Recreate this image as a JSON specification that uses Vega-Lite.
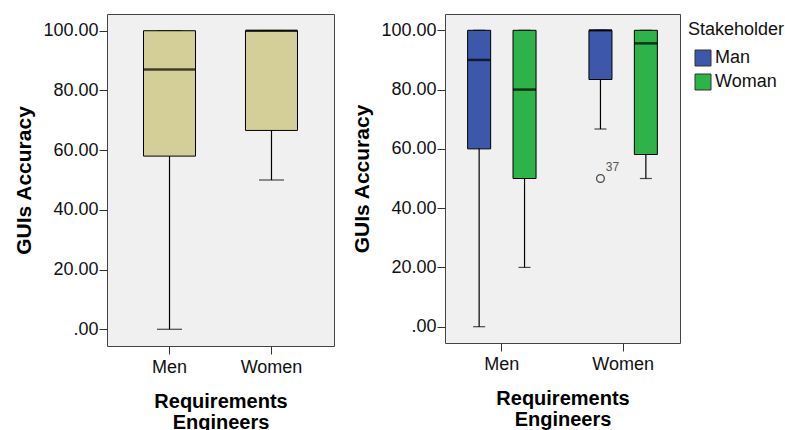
{
  "$schema": "https://vega.github.io/schema/vega-lite/v6.json",
  "padding": {"left": 13, "top": 13, "right": 0, "bottom": 0},
  "background": "white",
  "datasets": {
    "left": [
      {"group": "Men", "lower": 0, "q1": 58, "median": 87, "q3": 100, "upper": 100},
      {"group": "Women", "lower": 50, "q1": 66.6, "median": 100, "q3": 100, "upper": 100}
    ],
    "right": [
      {"group": "Men", "stakeholder": "Man", "lower": 0, "q1": 60, "median": 90, "q3": 100, "upper": 100},
      {"group": "Men", "stakeholder": "Woman", "lower": 20, "q1": 50, "median": 80, "q3": 100, "upper": 100},
      {"group": "Women", "stakeholder": "Man", "lower": 66.7, "q1": 83.4, "median": 100, "q3": 100, "upper": 100},
      {"group": "Women", "stakeholder": "Woman", "lower": 50, "q1": 58.1, "median": 95.6, "q3": 100, "upper": 100}
    ],
    "outliers": [
      {"group": "Women", "stakeholder": "Man", "value": 50, "label": "37"}
    ]
  },
  "config": {
    "font": "Liberation Sans",
    "view": {"fill": "#F0F0F0", "stroke": "#444444", "strokeWidth": 1},
    "concat": {"spacing": 16},
    "axis": {
      "grid": false, "domain": false, "tickColor": "#333333", "tickSize": 8,
      "labelFont": "Liberation Sans", "labelFontSize": 18, "labelColor": "#111111",
      "titleFont": "Liberation Sans", "titleFontSize": 21, "titleFontWeight": "bold", "titleColor": "#000000"
    },
    "axisY": {"labelPadding": 1, "titlePadding": 8},
    "axisX": {"labelPadding": 4, "titlePadding": 15, "labelAngle": 0},
    "legend": {
      "offset": 0, "padding": 7,
      "titleFont": "Liberation Sans", "titleFontSize": 18, "titleFontWeight": "normal", "titleColor": "#111111", "titlePadding": 10,
      "labelFont": "Liberation Sans", "labelFontSize": 18, "labelColor": "#111111", "labelOffset": 3,
      "symbolType": "square", "symbolSize": 256, "symbolStrokeColor": "#333333", "symbolStrokeWidth": 1, "symbolOffset": 6,
      "rowPadding": 4
    }
  },
  "hconcat": [
    {
      "width": 227,
      "height": 332,
      "data": {"name": "left"},
      "encoding": {
        "x": {"field": "group", "type": "nominal", "scale": {"paddingInner": 0.49, "paddingOuter": 0.358},
              "axis": {"title": ["Requirements", "Engineers"], "titleLineHeight": 21, "titleFontSize": 20}}
      },
      "layer": [
        {
          "mark": {"type": "rule", "color": "black", "strokeWidth": 1.2},
          "encoding": {
            "y": {"field": "lower", "type": "quantitative", "title": "GUIs Accuracy",
                  "scale": {"domain": [-5.6, 105.6], "nice": false, "zero": false},
                  "axis": {"values": [0, 20, 40, 60, 80, 100], "labelExpr": "datum.value == 0 ? '.00' : format(datum.value, '.2f')"}},
            "y2": {"field": "upper"}
          }
        },
        {
          "mark": {"type": "tick", "size": 25, "thickness": 1.2, "color": "black"},
          "encoding": {"y": {"field": "lower", "type": "quantitative", "title": "GUIs Accuracy"}}
        },
        {
          "mark": {"type": "tick", "size": 25, "thickness": 1.2, "color": "black"},
          "encoding": {"y": {"field": "upper", "type": "quantitative", "title": "GUIs Accuracy"}}
        },
        {
          "mark": {"type": "bar", "fill": "#D4CF98", "stroke": "black", "strokeWidth": 1},
          "encoding": {"y": {"field": "q1", "type": "quantitative", "title": "GUIs Accuracy"}, "y2": {"field": "q3"}}
        },
        {
          "mark": {"type": "tick", "size": 52, "thickness": 2.5, "color": "black"},
          "encoding": {"y": {"field": "median", "type": "quantitative", "title": "GUIs Accuracy"}}
        }
      ]
    },
    {
      "width": 235,
      "height": 329,
      "encoding": {
        "x": {"field": "group", "type": "nominal", "scale": {"paddingInner": 0.063, "paddingOuter": 0},
              "axis": {"title": ["Requirements", "Engineers"], "titleLineHeight": 21, "titleFontSize": 20}},
        "xOffset": {"field": "stakeholder", "type": "nominal", "scale": {"domain": ["Man", "Woman"], "paddingInner": 0.493, "paddingOuter": 0.4985}}
      },
      "layer": [
        {
          "data": {"name": "right"},
          "mark": {"type": "rule", "color": "black", "strokeWidth": 1.2},
          "encoding": {
            "y": {"field": "lower", "type": "quantitative", "title": "GUIs Accuracy",
                  "scale": {"domain": [-5.5, 105.5], "nice": false, "zero": false},
                  "axis": {"values": [0, 20, 40, 60, 80, 100], "labelExpr": "datum.value == 0 ? '.00' : format(datum.value, '.2f')"}},
            "y2": {"field": "upper"}
          }
        },
        {
          "data": {"name": "right"},
          "mark": {"type": "tick", "size": 12, "thickness": 1.2, "color": "black"},
          "encoding": {"y": {"field": "lower", "type": "quantitative", "title": "GUIs Accuracy"}}
        },
        {
          "data": {"name": "right"},
          "mark": {"type": "tick", "size": 12, "thickness": 1.2, "color": "black"},
          "encoding": {"y": {"field": "upper", "type": "quantitative", "title": "GUIs Accuracy"}}
        },
        {
          "data": {"name": "right"},
          "mark": {"type": "bar", "stroke": "black", "strokeWidth": 1},
          "encoding": {
            "y": {"field": "q1", "type": "quantitative", "title": "GUIs Accuracy"},
            "y2": {"field": "q3"},
            "color": {"field": "stakeholder", "type": "nominal", "title": "Stakeholder",
                      "scale": {"domain": ["Man", "Woman"], "range": ["#3D58AB", "#2DB34A"]}}
          }
        },
        {
          "data": {"name": "right"},
          "mark": {"type": "tick", "size": 23, "thickness": 2.5, "color": "black"},
          "encoding": {"y": {"field": "median", "type": "quantitative", "title": "GUIs Accuracy"}}
        },
        {
          "data": {"name": "outliers"},
          "mark": {"type": "point", "shape": "circle", "filled": false, "stroke": "black", "strokeWidth": 1.3, "size": 60},
          "encoding": {"y": {"field": "value", "type": "quantitative", "title": "GUIs Accuracy"}}
        },
        {
          "data": {"name": "outliers"},
          "mark": {"type": "text", "dx": 12, "dy": -12, "fontSize": 12, "color": "#555555", "font": "Liberation Sans"},
          "encoding": {"y": {"field": "value", "type": "quantitative", "title": "GUIs Accuracy"}, "text": {"field": "label"}}
        }
      ]
    }
  ]
}
